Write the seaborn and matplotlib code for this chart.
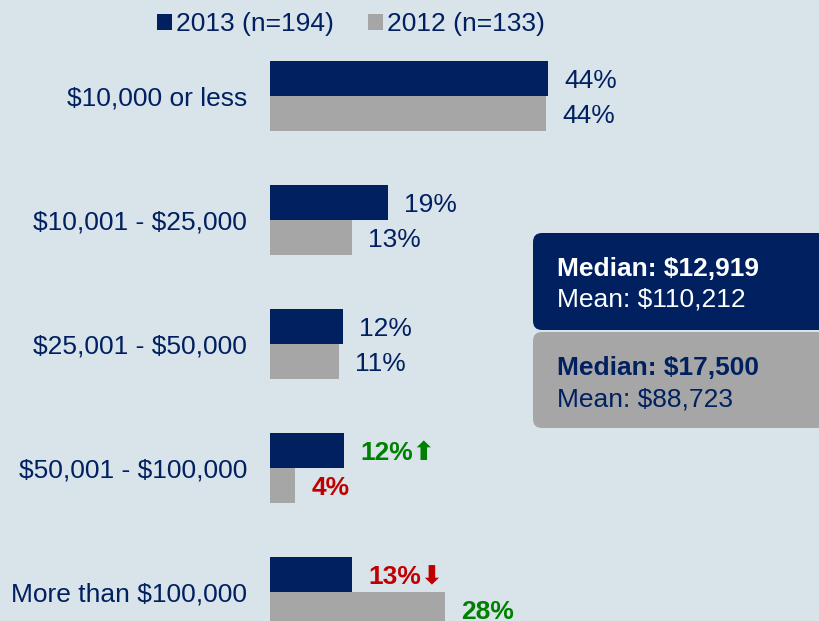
import pandas as pd
import matplotlib.pyplot as plt
import seaborn as sns
from matplotlib.patches import FancyBboxPatch

# data
brackets = ["$10,000 or less", "$10,001 - $25,000", "$25,001 - $50,000",
            "$50,001 - $100,000", "More than $100,000"]
years = ["2013 (n=194)", "2012 (n=133)"]
pct_2013 = [44.0, 18.7, 11.6, 11.7, 13.0]
pct_2012 = [43.7, 13.0, 10.9, 4.0, 27.7]
# change markers for the last two brackets
flag_2013 = [None, None, None, "up", "down"]
flag_2012 = [None, None, None, "low", "high"]
summary_2013 = ["Median: $12,919", "Mean: $110,212"]
summary_2012 = ["Median: $17,500", "Mean: $88,723"]

NAVY = "#002060"
GREY = "#A6A6A6"
BG = "#D9E3EA"
GREEN = "#008000"
RED = "#C00000"


def create_chart():
    df = pd.DataFrame({
        "bracket": brackets * 2,
        "pct": pct_2013 + pct_2012,
        "year": [years[0]] * len(brackets) + [years[1]] * len(brackets),
    })

    sns.set_theme(style="white")
    plt.rcParams["font.family"] = ["Liberation Sans", "DejaVu Sans"]
    plt.rcParams["text.parse_math"] = False

    fig = plt.figure(figsize=(8.19, 6.21), dpi=100, facecolor=BG)
    ax = fig.add_axes([270 / 819, 0, 549 / 819, 1])
    ax.set_facecolor(BG)

    sns.barplot(data=df, y="bracket", x="pct", hue="year", hue_order=years,
                order=brackets, orient="h", palette=[NAVY, GREY],
                width=0.565, linewidth=0, saturation=1, ax=ax)

    ax.set_xlim(0, 86.9)
    ax.set_ylim(4.234, -0.774)
    ax.set_xlabel("")
    ax.set_ylabel("")
    ax.set_xticks([])
    sns.despine(ax=ax, left=True, bottom=True)
    ax.tick_params(axis="y", length=0, pad=16.5, labelsize=19, labelcolor=NAVY)

    # value labels
    for cont, flags in zip(ax.containers, [flag_2013, flag_2012]):
        for bar, flag in zip(cont, flags):
            v = bar.get_width()
            txt = f"{v:.0f}%"
            color, weight = NAVY, "normal"
            if flag == "up":
                txt, color, weight = txt + "⬆", GREEN, "bold"
            elif flag == "down":
                txt, color, weight = txt + "⬇", RED, "bold"
            elif flag == "low":
                color, weight = RED, "bold"
            elif flag == "high":
                color, weight = GREEN, "bold"
            ax.annotate(txt, (v, bar.get_y() + bar.get_height() / 2),
                        xytext=(11.5, -2), textcoords="offset points",
                        ha="left", va="center", fontsize=19,
                        color=color, fontweight=weight, annotation_clip=False)

    sns.move_legend(ax, "center", bbox_to_anchor=(0.4286, 0.9615),
                    bbox_transform=fig.transFigure, ncol=2, frameon=False,
                    title=None, fontsize=19, handlelength=0.56,
                    handleheight=0.56, handletextpad=0.15,
                    columnspacing=1.3, labelcolor=NAVY)

    # summary boxes
    for (y0, y1), fc, tc, lines in [((291, 388), NAVY, "white", summary_2013),
                                    ((193, 289), GREY, NAVY, summary_2012)]:
        box = FancyBboxPatch((533 / 819, y0 / 621), 0.4, (y1 - y0) / 621,
                             boxstyle="round,pad=0,rounding_size=0.011",
                             mutation_aspect=819 / 621,
                             transform=fig.transFigure, facecolor=fc,
                             edgecolor="none", zorder=5)
        fig.patches.append(box)
        fig.text(557 / 819, (y1 - 36) / 621, lines[0], fontsize=19,
                 fontweight="bold", color=tc, va="center", zorder=6)
        fig.text(557 / 819, (y1 - 67) / 621, lines[1], fontsize=19,
                 color=tc, va="center", zorder=6)

    fig.savefig("out.png", dpi=100, facecolor=BG)
    plt.close(fig)


if __name__ == "__main__":
    create_chart()
